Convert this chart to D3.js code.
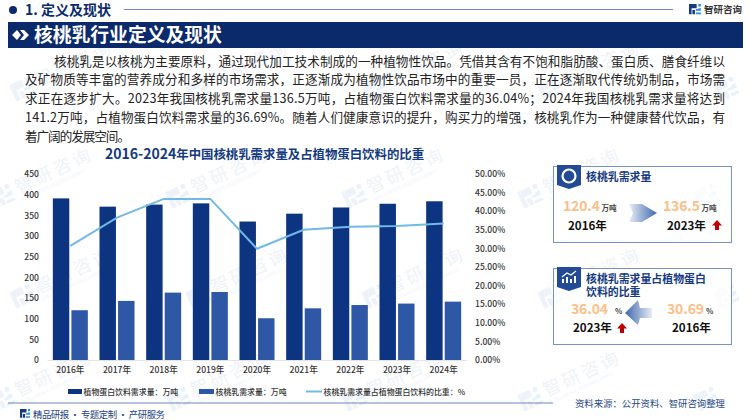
<!DOCTYPE html>
<html>
<head>
<meta charset="utf-8">
<script src="https://cdn.jsdelivr.net/npm/d3@7"></script>
<style>
    html, body { margin: 0; padding: 0; background: #fff; }
    svg { display: block; }
    text { font-family: "Noto Sans CJK SC", "Noto Sans", sans-serif; }
</style>
</head>
<body>
<div id="chart"></div>
<script>
// Chart data
const categories = ['2016年', '2017年', '2018年', '2019年', '2020年', '2021年', '2022年', '2023年', '2024年'];
const plantDemand = [391, 371, 376, 379, 335, 354, 369, 378, 384];
const walnutDemand = [120.4, 143, 163, 164.5, 101, 125, 133, 136.5, 141.2];
const walnutShare = [30.69, 38.3, 43.3, 43.3, 29.9, 35.0, 35.8, 36.04, 36.69];
const leftTicks = [0, 50, 100, 150, 200, 250, 300, 350, 400, 450];
const rightTicks = [0, 5, 10, 15, 20, 25, 30, 35, 40, 45, 50];
const legendLabels = ['植物蛋白饮料需求量：万吨', '核桃乳需求量：万吨', '核桃乳需求量占植物蛋白饮料的比重：%'];

const bodyLines = [
    '核桃乳是以核桃为主要原料，通过现代加工技术制成的一种植物性饮品。凭借其含有不饱和脂肪酸、蛋白质、膳食纤维以',
    '及矿物质等丰富的营养成分和多样的市场需求，正逐渐成为植物性饮品市场中的重要一员，正在逐渐取代传统奶制品，市场需',
    '求正在逐步扩大。2023年我国核桃乳需求量136.5万吨，占植物蛋白饮料需求量的36.04%；2024年我国核桃乳需求量将达到',
    '141.2万吨，占植物蛋白饮料需求量的36.69%。随着人们健康意识的提升，购买力的增强，核桃乳作为一种健康替代饮品，有',
    '着广阔的发展空间。'
];

const NAVY = '#0b2a6b';
const DARK_BLUE = '#0c3480';
const MID_BLUE = '#2e57a5';
const LINE_BLUE = '#72b9e6';
const ORANGE = '#fbc08a';
const TITLE_BLUE = '#143a80';
const BORDER = '#7690c8';

const svg = d3.select('#chart').append('svg')
    .attr('width', 750)
    .attr('height', 420);

const defs = svg.append('defs');
function addGradient(id, from, to) {
    const g = defs.append('linearGradient').attr('id', id);
    g.append('stop').attr('offset', '0%').attr('stop-color', from);
    g.append('stop').attr('offset', '100%').attr('stop-color', to);
}
addGradient('arrowRight', '#e6ecf6', '#3f68ae');
addGradient('arrowLeft', '#3f68ae', '#e6ecf6');

// Small company logo, three bent strokes
function drawLogo(parent, x, y, s, color, accent) {
    const g = parent.append('g').attr('transform', `translate(${x},${y}) scale(${s})`);
    g.append('path')
        .attr('d', 'M0 0H9V5H3V12H0Z M4 7H7V12H4Z')
        .attr('fill', color);
    g.append('path')
        .attr('d', 'M11 0H14V3H11Z M11 5H14V8H8V6H11Z M8 10H14V12H8Z')
        .attr('fill', accent);
}

// Watermark grid, the last column is logo only so no text runs off the page
const wm = svg.append('g').attr('class', 'watermark');
[[15, 98], [-5, 205], [15, 305], [-5, 408]].forEach(([x0, y]) => {
    d3.range(0, 5).forEach(i => {
        const g = wm.append('g')
            .attr('transform', `translate(${x0 + i * 176},${y}) rotate(-25)`);
        drawLogo(g, 0, -14, 1.5, '#eef3fa', '#e8f2fb');
        if (i === 4) return;
        g.append('text').attr('x', 26).attr('y', 0)
            .attr('font-size', 18).attr('letter-spacing', 3)
            .attr('fill', '#eff3f8').text('智研咨询');
        g.append('text').attr('x', 26).attr('y', 8)
            .attr('font-size', 4.5).attr('fill', '#f0f3f8')
            .text('INTELLIGENCE RESEARCH GROUP');
    });
});

// Header row
svg.append('circle').attr('cx', 13).attr('cy', 10).attr('r', 4).attr('fill', NAVY);
svg.append('text').attr('x', 25).attr('y', 15)
    .attr('font-size', 14).attr('font-weight', 700).attr('fill', NAVY)
    .attr('textLength', 86).text('1. 定义及现状');
svg.append('line').attr('x1', 124).attr('x2', 673).attr('y1', 9.5).attr('y2', 9.5)
    .attr('stroke', '#6f88bd').attr('stroke-width', 1);
drawLogo(svg, 689, 4, 0.85, '#143a80', '#2f8fd8');
svg.append('text').attr('x', 704).attr('y', 13)
    .attr('font-size', 9.5).attr('font-weight', 700).attr('fill', '#333').text('智研咨询');

// Banner
svg.append('rect').attr('x', 8).attr('y', 22).attr('width', 735).attr('height', 26).attr('fill', NAVY);
svg.append('path').attr('d', 'M12 35L17 30L21 35L17 40Z').attr('fill', '#fff');
svg.append('path').attr('d', 'M20 30H24L29 35L24 40H20L24 35Z').attr('fill', '#fff');
svg.append('text').attr('x', 34).attr('y', 42)
    .attr('font-size', 18.8).attr('font-weight', 700).attr('fill', '#fff').text('核桃乳行业定义及现状');

// Body paragraph
const bodyWidths = [671, 700, 700, 700, 105];
svg.append('g').selectAll('text')
    .data(bodyLines)
    .enter()
    .append('text')
    .attr('x', (d, i) => i === 0 ? 54 : 25)
    .attr('y', (d, i) => 65.5 + i * 18.9)
    .attr('font-size', 12.6)
    .attr('fill', '#222')
    .attr('textLength', (d, i) => bodyWidths[i])
    .text(d => d);

// Chart title, the digits are set larger than the hanzi
const chartTitle = svg.append('text').attr('x', 105).attr('y', 158.5)
    .attr('font-weight', 700).attr('fill', TITLE_BLUE);
chartTitle.append('tspan').attr('font-size', 14).text('2016-2024');
chartTitle.append('tspan').attr('font-size', 12.4).text('年中国核桃乳需求量及占植物蛋白饮料的比重');

// Scales
const chartLeft = 47, chartRight = 467, chartTop = 174, chartBottom = 360;

const xScale = d3.scaleBand()
    .domain(categories)
    .range([chartLeft, chartRight]);
const barScale = d3.scaleBand()
    .domain(['plant', 'walnut'])
    .range([xScale.step() / 2 - 17.5, xScale.step() / 2 + 17.5])
    .paddingInner(0.115);
const yLeft = d3.scaleLinear().domain([0, 450]).range([chartBottom, chartTop]);
const yRight = d3.scaleLinear().domain([0, 50]).range([chartBottom, chartTop]);

const barGroups = [
    { key: 'plant', values: plantDemand, color: DARK_BLUE },
    { key: 'walnut', values: walnutDemand, color: MID_BLUE }
];

// Bars
barGroups.forEach(s => {
    svg.append('g').selectAll('rect')
        .data(s.values)
        .enter()
        .append('rect')
        .attr('x', (d, i) => xScale(categories[i]) + barScale(s.key))
        .attr('y', d => yLeft(d))
        .attr('width', barScale.bandwidth())
        .attr('height', d => yLeft(0) - yLeft(d))
        .attr('fill', s.color);
});

// Share line
const line = d3.line()
    .x((d, i) => xScale(categories[i]) + xScale.bandwidth() / 2)
    .y(d => yRight(d));
svg.append('path')
    .datum(walnutShare)
    .attr('d', line)
    .attr('fill', 'none')
    .attr('stroke', LINE_BLUE)
    .attr('stroke-width', 2);

// Axes
const xAxis = d3.axisBottom(xScale).tickSize(0).tickPadding(7);
const leftAxis = d3.axisLeft(yLeft).tickValues(leftTicks).tickSize(0).tickPadding(8);
const rightAxis = d3.axisRight(yRight).tickValues(rightTicks).tickSize(0).tickPadding(8)
    .tickFormat(d => d.toFixed(2) + '%');

function styleAxis(g) {
    g.selectAll('text')
        .attr('font-size', 8.6)
        .attr('font-weight', 500)
        .attr('fill', '#333')
        .style('font-family', '"Noto Sans CJK SC", sans-serif');
}

svg.append('g')
    .attr('transform', `translate(0,${chartBottom})`)
    .call(xAxis)
    .call(styleAxis)
    .call(g => g.select('.domain').attr('stroke', '#e4e4e4'));
svg.append('g')
    .attr('transform', `translate(${chartLeft},0)`)
    .call(leftAxis)
    .call(styleAxis)
    .call(g => g.select('.domain').remove());
svg.append('g')
    .attr('transform', `translate(${chartRight},0)`)
    .call(rightAxis)
    .call(styleAxis)
    .call(g => g.select('.domain').remove());

// Legend
const legendRow = svg.append('g');
const legendX = [68, 199, 306];
const legendW = [14, 15, 16];
legendLabels.forEach((label, i) => {
    if (i < 2) {
        legendRow.append('rect')
            .attr('x', legendX[i]).attr('y', 389)
            .attr('width', legendW[i]).attr('height', 5)
            .attr('fill', barGroups[i].color);
    } else {
        legendRow.append('line')
            .attr('x1', legendX[i]).attr('x2', legendX[i] + legendW[i])
            .attr('y1', 391.5).attr('y2', 391.5)
            .attr('stroke', LINE_BLUE).attr('stroke-width', 2);
    }
    legendRow.append('text')
        .attr('x', legendX[i] + legendW[i] + 1.5).attr('y', 394.5)
        .attr('font-size', 7.9).attr('font-weight', 500).attr('fill', '#333')
        .text(label);
});

// Footer
svg.append('line').attr('x1', 8).attr('x2', 553).attr('y1', 403).attr('y2', 403)
    .attr('stroke', '#6f88bd').attr('stroke-width', 1);
drawLogo(svg, 20, 409, 0.72, '#143a80', '#2f8fd8');
svg.append('text').attr('x', 33).attr('y', 417.5)
    .attr('font-size', 9.4).attr('fill', '#1d3f7f').attr('textLength', 132)
    .text('精品研报 · 专题定制 · 产研服务');
svg.append('text').attr('x', 575).attr('y', 407)
    .attr('font-size', 9.4).attr('fill', '#2a4a85').attr('textLength', 150)
    .text('资料来源：公开资料、智研咨询整理');

// Side panels
function drawPanel(top, titleLines, drawIcon) {
    svg.append('rect')
        .attr('x', 553.5).attr('y', top + 0.5)
        .attr('width', 178).attr('height', 76)
        .attr('fill', '#fff').attr('fill-opacity', 0.7)
        .attr('stroke', BORDER).attr('stroke-width', 1);
    svg.append('path')
        .attr('d', `M557 ${top - 1}H581V${top + 19}L569 ${top + 23}L557 ${top + 19}Z`)
        .attr('fill', '#234a94');
    drawIcon(top);
    titleLines.forEach((t, i) => {
        svg.append('text')
            .attr('x', 586).attr('y', top + 15 + i * 13)
            .attr('font-size', 10.9).attr('font-weight', 700).attr('fill', TITLE_BLUE)
            .text(t);
    });
}

function bigValue(x, y, value, unit, unitX, unitSize) {
    svg.append('text').attr('x', x).attr('y', y)
        .attr('font-size', 14).attr('font-weight', 700).attr('fill', ORANGE)
        .attr('textLength', 37).text(value);
    svg.append('text').attr('x', unitX).attr('y', y)
        .attr('font-size', unitSize).attr('font-weight', 700).attr('fill', '#444').text(unit);
}

function yearLabel(x, y, label) {
    svg.append('text').attr('x', x).attr('y', y)
        .attr('font-size', 11.6).attr('font-weight', 700).attr('fill', '#111').text(label);
}

function redArrow(x, y) {
    svg.append('path')
        .attr('transform', `translate(${x},${y})`)
        .attr('d', 'M5 0L10 5.5H7V10H3V5.5H0Z')
        .attr('fill', '#c00000');
}

drawPanel(166, ['核桃乳需求量'], top => {
    svg.append('circle').attr('cx', 569).attr('cy', top + 10).attr('r', 6.5)
        .attr('fill', 'none').attr('stroke', '#fff').attr('stroke-width', 2.2);
});
bigValue(563, 211, '120.4', '万吨', 601.5, 7.6);
bigValue(663, 211, '136.5', '万吨', 701.5, 7.6);
yearLabel(568, 230, '2016年');
yearLabel(667, 230, '2023年');
redArrow(712, 220);
svg.append('path')
    .attr('d', 'M629 204H646L642 204L657 213L642 222L646 222H629L633 213Z')
    .attr('fill', 'url(#arrowRight)');

drawPanel(268, ['核桃乳需求量占植物蛋白', '饮料的比重'], top => {
    svg.append('path')
        .attr('d', `M562 ${top + 15}h2v-4h-2z M566 ${top + 15}h2v-6h-2z M570 ${top + 15}h2v-4h-2z M574 ${top + 15}h2v-7h-2z`)
        .attr('fill', '#fff');
    svg.append('path')
        .attr('d', `M562 ${top + 9}L567 ${top + 5}L571 ${top + 7}L576 ${top + 3}`)
        .attr('fill', 'none').attr('stroke', '#fff').attr('stroke-width', 1.2);
});
bigValue(571, 314, '36.04', '%', 615, 7.6);
bigValue(667, 314, '30.69', '%', 706, 7.6);
yearLabel(573, 332, '2023年');
yearLabel(672, 332, '2016年');
redArrow(617, 323);
svg.append('path')
    .attr('d', 'M652 308H640L638 300L625 313L638 325L640 318H652Z')
    .attr('fill', 'url(#arrowLeft)');
</script>
</body>
</html>
